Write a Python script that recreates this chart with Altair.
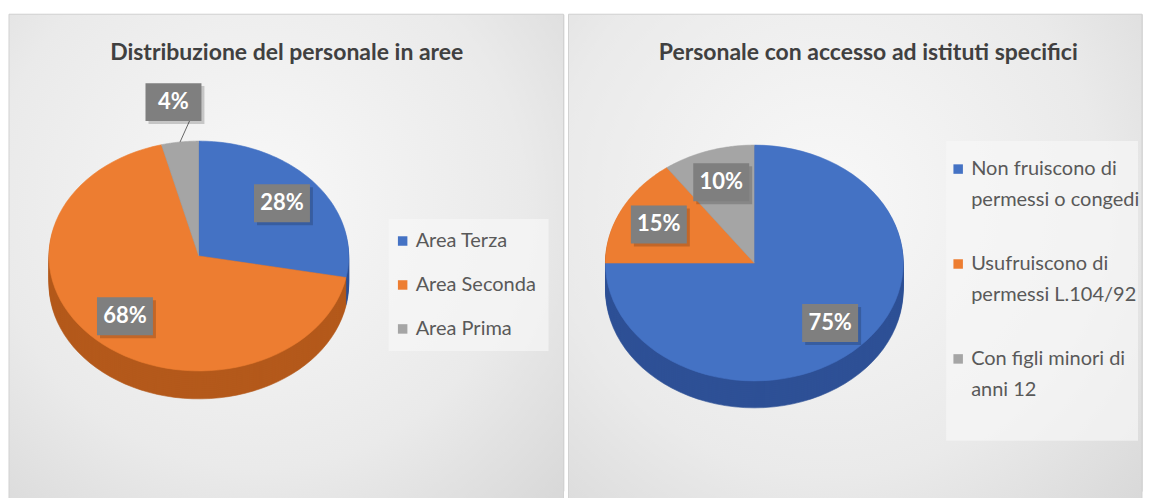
import altair as alt
import pandas as pd

# ---- data ----
aree_cat = ["Area Terza", "Area Seconda", "Area Prima"]
aree_val = [28, 68, 4]
ist_cat = ["Non fruiscono di\npermessi o congedi",
           "Usufruiscono di\npermessi L.104/92",
           "Con figli minori di\nanni 12"]
ist_val = [75, 15, 10]
titles = ["Distribuzione del personale in aree",
          "Personale con accesso ad istituti specifici"]

# ---- style ----
TOP = ["#4472c4", "#ed7d31", "#a5a5a5"]
SIDE = ["#2e5096", "#b4591b", "#7a7a7a"]
FONT = "Lato"
NPTS = 72

GRAD = {"gradient": "radial", "x1": 0.45, "y1": 0.4, "r1": 0.0,
        "x2": 0.45, "y2": 0.4, "r2": 0.8,
        "stops": [{"offset": 0, "color": "#f8f8f8"},
                  {"offset": 0.6, "color": "#eaeaea"},
                  {"offset": 1, "color": "#d6d6d6"}]}


def color_expr(palette):
    arr = ",".join(f"'{c}'" for c in palette)
    return f"[{arr}][datum.i]"


def panel(cats, vals, title, W, H, cx, cy, rx, ry, depth, title_x,
          leg_box, leg_x, leg_y0, leg_step, line_h, f_in, f_out):
    n = len(cats)
    df = pd.DataFrame({"cat": cats, "v": vals, "i": list(range(n))})
    one = pd.DataFrame({"a": [0]})

    base = alt.Chart(df).transform_window(
        cum="sum(v)", sort=[alt.SortField("i")], frame=[None, 0]
    ).transform_joinaggregate(tot="sum(v)").transform_calculate(
        a0="(datum.cum - datum.v) / datum.tot * 2 * PI",
        a1="datum.cum / datum.tot * 2 * PI",
        mid="(datum.cum - datum.v / 2) / datum.tot * 2 * PI",
    )

    bg = alt.Chart(one).mark_rect(stroke="#d2d2d2", strokeWidth=1).encode(
        x=alt.value(0), x2=alt.value(W), y=alt.value(0), y2=alt.value(H + 10),
        color=alt.value(GRAD))

    ttl = alt.Chart(one).mark_text(font=FONT, fontSize=23, fontWeight="bold",
                                   color="#404040", align="center",
                                   baseline="middle").encode(
        x=alt.value(title_x), y=alt.value(39), text=alt.value(title))

    layers = [bg, ttl]

    def wedge(dy, palette):
        return base.transform_calculate(
            ks=f"sequence(-1, {NPTS + 1})"
        ).transform_flatten(["ks"], as_=["k"]).transform_calculate(
            ang=f"datum.a0 + (datum.a1 - datum.a0) * datum.k / {NPTS}",
            px=f"datum.k < 0 ? {cx} : {cx} + {rx} * sin(datum.ang)",
            py=f"datum.k < 0 ? {cy + dy} : {cy + dy} - {ry} * cos(datum.ang)",
            col=color_expr(palette),
        ).mark_line(strokeWidth=0.6, interpolate="linear").encode(
            x=alt.X("px:Q", scale=None),
            y=alt.Y("py:Q", scale=None),
            order=alt.Order("k:Q"),
            detail="i:N",
            color=alt.Color("col:N", scale=None),
            fill=alt.Fill("col:N", scale=None),
        )

    for d in range(depth, 0, -2):
        layers.append(wedge(d, SIDE))
    layers.append(wedge(0, TOP))

    lab = base.transform_calculate(
        ff=f"datum.v < 5 ? {f_out} : {f_in}",
        lx=f"{cx} + datum.ff * {rx} * sin(datum.mid)",
        ly=f"{cy} - datum.ff * {ry} * cos(datum.mid)",
        ex=f"{cx} + {rx} * sin(datum.mid)",
        ey=f"{cy} - {ry} * cos(datum.mid)",
        bx0="datum.lx - 28", bx1="datum.lx + 28",
        by0="datum.ly - 19", by1="datum.ly + 19",
        sx0="datum.lx - 25", sx1="datum.lx + 31",
        sy0="datum.ly - 16", sy1="datum.ly + 22",
        lead_x="datum.lx + 16", lead_y="datum.ly + 19",
        txt="datum.v + '%'")

    leader = lab.transform_filter("datum.v < 5").mark_rule(
        color="#666666", strokeWidth=1).encode(
        x=alt.X("lead_x:Q", scale=None), y=alt.Y("lead_y:Q", scale=None),
        x2="ex:Q", y2="ey:Q")
    shadow = lab.mark_rect(color="#000000", opacity=0.18).encode(
        x=alt.X("sx0:Q", scale=None), x2="sx1:Q",
        y=alt.Y("sy0:Q", scale=None), y2="sy1:Q")
    box = lab.mark_rect(color="#7f7f7f").encode(
        x=alt.X("bx0:Q", scale=None), x2="bx1:Q",
        y=alt.Y("by0:Q", scale=None), y2="by1:Q")
    ltxt = lab.mark_text(font=FONT, fontSize=22, fontWeight="bold",
                         color="white", align="center",
                         baseline="middle").encode(
        x=alt.X("lx:Q", scale=None), y=alt.Y("ly:Q", scale=None),
        text="txt:N")
    layers += [leader, shadow, box, ltxt]

    # legend
    lb = alt.Chart(one).mark_rect(color="#f6f6f6", opacity=0.7).encode(
        x=alt.value(leg_box[0]), x2=alt.value(leg_box[1]),
        y=alt.value(leg_box[2]), y2=alt.value(leg_box[3]))
    leg = alt.Chart(df).transform_calculate(
        ly=f"{leg_y0} + datum.i * {leg_step}",
        sx=f"{leg_x}", tx=f"{leg_x + 13}",
        col=color_expr(TOP))
    sq = leg.mark_square(size=90, opacity=1).encode(
        x=alt.X("sx:Q", scale=None), y=alt.Y("ly:Q", scale=None),
        color=alt.Color("col:N", scale=None))
    lt = leg.mark_text(font=FONT, fontSize=20, color="#595959",
                       align="left", baseline="middle", lineBreak="\n",
                       lineHeight=line_h).encode(
        x=alt.X("tx:Q", scale=None), y=alt.Y("ly:Q", scale=None),
        text="cat:N")
    layers += [lb, sq, lt]

    return alt.layer(*layers).properties(width=W, height=H)


W1, W2, H = 555, 574, 477
left = panel(aree_cat, aree_val, titles[0], W1, H, cx=190, cy=242,
             rx=150, ry=115, depth=28, title_x=278,
             leg_box=(380, 540, 205, 337), leg_x=394, leg_y0=227,
             leg_step=44, line_h=31, f_in=0.72, f_out=1.35)
right = panel(ist_cat, ist_val, titles[1], W2, H, cx=186, cy=249,
              rx=149, ry=118, depth=27, title_x=300,
              leg_box=(378, 570, 127, 427), leg_x=390, leg_y0=155,
              leg_step=95, line_h=31, f_in=0.72, f_out=1.35)

chart = alt.hconcat(left, right, spacing=3).properties(
    padding={"left": 0, "top": 5, "right": 0, "bottom": 0}
).configure_view(strokeWidth=0).configure(background="white")

chart.save("out.html", embed_options={"renderer": "svg", "actions": False})
